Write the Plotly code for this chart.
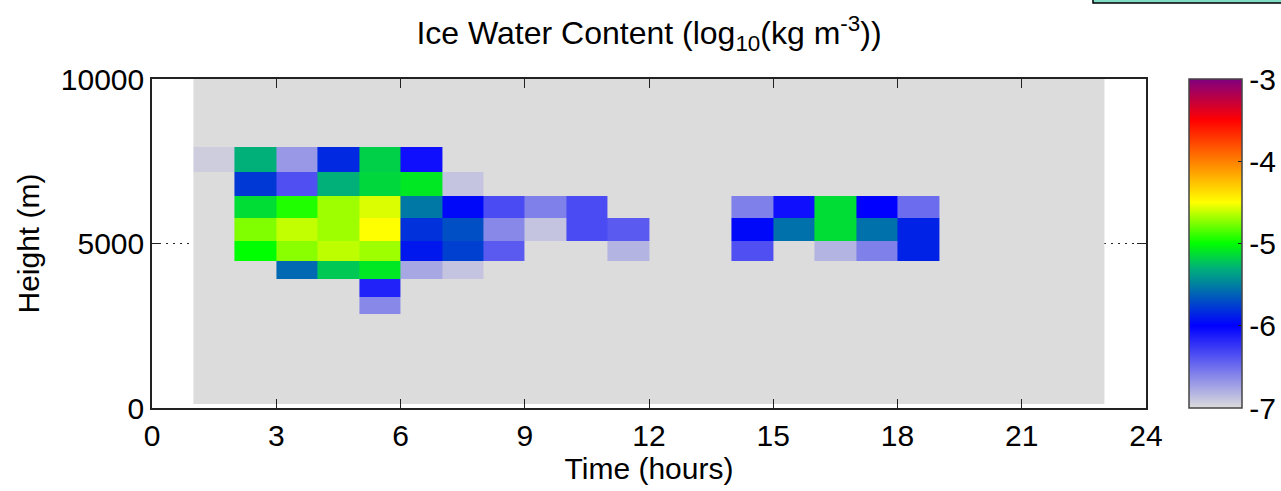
import plotly.graph_objects as go

# Time bins (hours): cell edges from 01 to 23 UTC, one-hour columns
TIME_EDGES = list(range(1, 24))

# Model level edges (m)
HEIGHT_EDGES = [120, 2872, 3389, 3915, 4472, 5071, 5762, 6450, 7171, 7940, 10000]

# log10 ice water content (kg m^-3) per level, one value per hourly column
# (None = below the -7 display floor)
N = None
IWC_0120 = [N] * 22
IWC_2872 = [N, N, N, N, -6.62, N, N, N, N, N, N, N, N, N, N, N, N, N, N, N, N, N]
IWC_3389 = [N, N, N, N, -6.15, N, N, N, N, N, N, N, N, N, N, N, N, N, N, N, N, N]
IWC_3915 = [N, N, -5.59, -5.21, -5.09, -6.76, -6.89, N, N, N, N, N, N, N, N, N, N, N, N, N, N, N]
IWC_4472 = [N, -5.00, -4.73, -4.63, -4.69, -5.91, -5.75, -6.41, N, N, -6.82, N, N,
            -6.36, N, -6.82, -6.58, -5.87, N, N, N, N]
IWC_5071 = [N, -4.75, -4.62, -4.69, -4.50, -5.81, -5.69, -6.62, -6.89, -6.34, -6.41, N, N,
            -5.97, -5.56, -5.13, -5.56, -5.87, N, N, N, N]
IWC_5762 = [N, -5.13, -4.94, -4.69, -4.57, -5.53, -5.97, -6.34, -6.58, -6.34, N, N, N,
            -6.58, -6.07, -5.13, -6.00, -6.49, N, N, N, N]
IWC_6450 = [N, -5.78, -6.36, -5.30, -5.15, -5.09, -6.89, N, N, N, N, N, N, N, N, N, N, N, N, N, N, N]
IWC_7171 = [-6.93, -5.30, -6.69, -5.84, -5.18, -6.07, N, N, N, N, N, N, N, N, N, N, N, N, N, N, N, N]
IWC_7940 = [N] * 22

ROWS = [IWC_0120, IWC_2872, IWC_3389, IWC_3915, IWC_4472,
        IWC_5071, IWC_5762, IWC_6450, IWC_7171, IWC_7940]

ZMIN, ZMAX = -7, -3
z = [[ZMIN if v is None else v for v in row] for row in ROWS]

# Gray -> blue -> teal -> green -> yellow -> orange -> red -> purple
colorscale = [
    [0.0, "rgb(220,220,220)"],
    [0.25, "rgb(0,0,255)"],
    [0.375, "rgb(0,128,160)"],
    [0.425, "rgb(0,176,120)"],
    [0.5, "rgb(0,255,0)"],
    [0.625, "rgb(255,255,0)"],
    [0.75, "rgb(255,128,0)"],
    [0.875, "rgb(255,0,0)"],
    [1.0, "rgb(128,0,128)"],
]

CB_TICKS = [-7, -6, -5, -4, -3]

FONT = "Liberation Sans, Arial, sans-serif"
W, H = 1281, 491
L, R, T, B = 152, 135, 79, 83
PW = W - L - R
PH = H - T - B

fig = go.Figure(go.Heatmap(
    x=TIME_EDGES, y=HEIGHT_EDGES, z=z,
    zmin=ZMIN, zmax=ZMAX, colorscale=colorscale,
    colorbar=dict(
        x=(1189 - L) / PW, xanchor="left", xpad=0,
        y=0.5, yanchor="middle", ypad=0, len=1.0, lenmode="fraction",
        thickness=53, outlinecolor="#444", outlinewidth=1.5,
        tickvals=CB_TICKS, ticktext=[str(t) for t in CB_TICKS],
        ticks="inside", ticklen=4,
        tickcolor="#222", tickfont=dict(family=FONT, size=30, color="black"),
    ),
    hoverongaps=False,
))

axis_common = dict(
    showline=True, linecolor="#222", linewidth=1.5, mirror="ticks",
    ticks="inside", ticklen=9, tickcolor="#222", tickwidth=1.2,
    tickfont=dict(family=FONT, size=30, color="black"),
    zeroline=False,
)

fig.update_layout(
    width=W, height=H,
    margin=dict(l=L, r=R, t=T, b=B, autoexpand=False),
    paper_bgcolor="white", plot_bgcolor="white",
    title=dict(
        text="Ice Water Content (log<sub>10</sub>(kg m<sup>-3</sup>))",
        x=(L + PW / 2) / W, xanchor="center", y=1 - 33 / H, yanchor="middle",
        font=dict(family=FONT, size=32, color="black"),
    ),
    xaxis=dict(
        range=[0, 24], tickvals=[0, 3, 6, 9, 12, 15, 18, 21, 24],
        showgrid=False,
        title=dict(text="Time (hours)", font=dict(family=FONT, size=30, color="black"), standoff=4),
        **axis_common,
    ),
    yaxis=dict(
        range=[0, 10000], tickvals=[0, 5000, 10000], ticktext=["0", "5000", "10000"],
        showgrid=True, gridcolor="#222", gridwidth=1.2, griddash="2px,5px",
        title=dict(text="Height (m)", font=dict(family=FONT, size=30, color="black"), standoff=12),
        **axis_common,
    ),
    shapes=[
        dict(type="rect", xref="paper", yref="paper",
             x0=(1093 - L) / PW, x1=(1290 - L) / PW,
             y0=(H - B - 3) / PH, y1=(H - B + 6) / PH,
             fillcolor="#80dcc4", line=dict(color="black", width=1.5), layer="above"),
    ],
)

fig.write_html("out.html")
